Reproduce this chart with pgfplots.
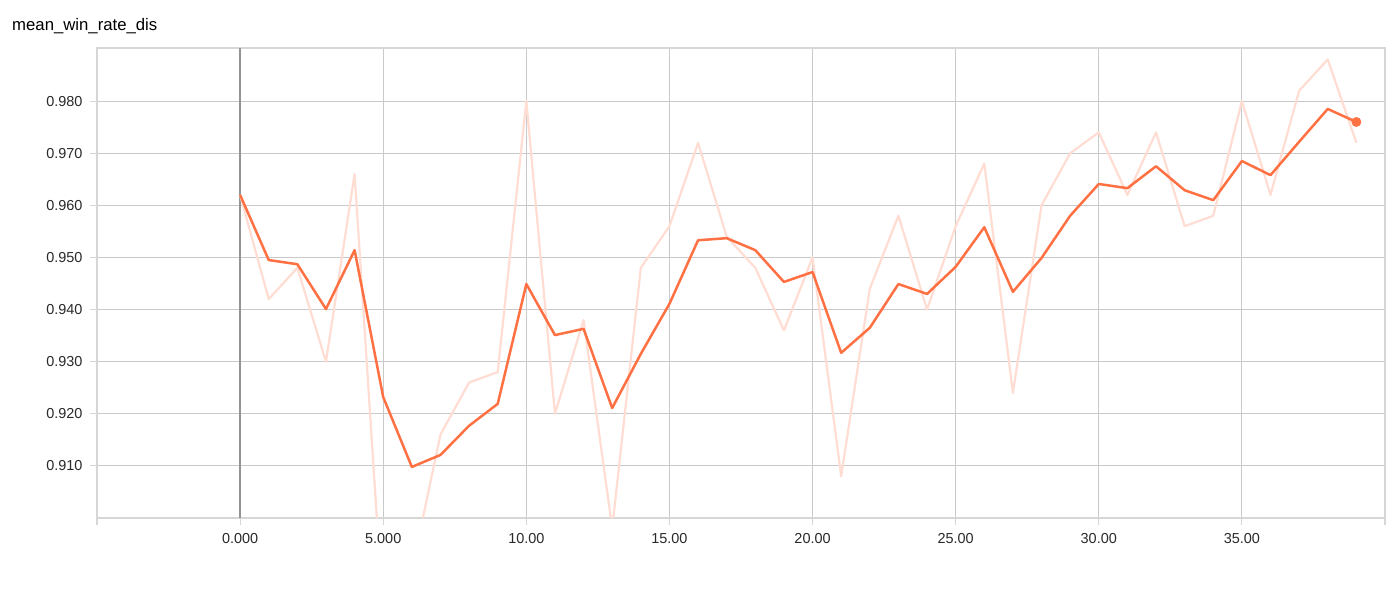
\documentclass[border=0pt]{standalone}
\usepackage{pgfplots}
\pgfplotsset{compat=1.18}
\usepackage{fontspec}
\setmainfont{Liberation Sans}
\definecolor{tbor}{HTML}{FF7043}
\definecolor{tbraw}{HTML}{FFDDD2}
\definecolor{gridc}{HTML}{C9C9C9}
\definecolor{axc}{HTML}{D6D6D6}
\definecolor{txt}{HTML}{2A2A2A}

\pgfplotstableread{
x y
0 0.962
1 0.942
2 0.948
3 0.930
4 0.966
5 0.881
6 0.890
7 0.916
8 0.926
9 0.928
10 0.980
11 0.920
12 0.938
13 0.898
14 0.948
15 0.956
16 0.972
17 0.954
18 0.948
19 0.936
20 0.950
21 0.908
22 0.944
23 0.958
24 0.940
25 0.956
26 0.968
27 0.924
28 0.960
29 0.970
30 0.974
31 0.962
32 0.974
33 0.956
34 0.958
35 0.980
36 0.962
37 0.982
38 0.988
39 0.972
}\rawdata

\pgfplotstableread{
x y
0 0.9620
1 0.9495
2 0.9487
3 0.9401
4 0.9514
5 0.9232
6 0.9098
7 0.9121
8 0.9177
9 0.9219
10 0.9449
11 0.9351
12 0.9363
13 0.9211
14 0.9315
15 0.9411
16 0.9533
17 0.9537
18 0.9514
19 0.9453
20 0.9472
21 0.9317
22 0.9365
23 0.9449
24 0.9430
25 0.9482
26 0.9558
27 0.9434
28 0.9499
29 0.9580
30 0.9641
31 0.9633
32 0.9675
33 0.9629
34 0.9610
35 0.9685
36 0.9658
37 0.9722
38 0.9785
39 0.9760
}\smoothdata

\begin{document}
\begin{tikzpicture}
\path[use as bounding box, fill=white] (0,0) rectangle (1395bp,600bp);
\node[anchor=base west, font=\fontsize{16.8}{19}\selectfont, text=black, inner sep=0] at (12bp,569bp) {mean\_win\_rate\_dis};
\begin{axis}[
  at={(97bp,82bp)}, anchor=south west,
  width=1288bp, height=470bp, scale only axis,
  xmin=-5, xmax=40, ymin=0.900, ymax=0.9902,
  xtick={-5,0,5,10,15,20,25,30,35,40},
  xticklabels={,0.000,5.000,10.00,15.00,20.00,25.00,30.00,35.00,},
  ytick={0.91,0.92,0.93,0.94,0.95,0.96,0.97,0.98},
  yticklabel={\pgfmathprintnumber[fixed,fixed zerofill,precision=3]{\tick}},
  /pgf/number format/assume math mode=true,
  scaled y ticks=false,
  xtick pos=bottom, ytick pos=left,
  tick align=outside,
  major tick length=7bp,
  tick style={draw=axc, line width=1.2bp},
  grid=major,
  major grid style={draw=gridc, line width=1bp},
  axis line style={draw=axc, line width=2bp},
  ticklabel style={font=\fontsize{14.5}{16}\selectfont, text=txt},
  xticklabel style={yshift=-5bp},
  yticklabel style={xshift=-4bp},
  clip=true,
]
\draw[draw=gray!85, line width=1.3bp] (axis cs:0,0.900) -- (axis cs:0,0.9902);
\addplot[tbraw, line width=2.2bp, line join=round] table[x=x,y=y] {\rawdata};
\addplot[tbor, line width=2.5bp, line join=round] table[x=x,y=y] {\smoothdata};
\addplot[tbor, only marks, mark=*, mark size=4.7bp, mark options={draw=tbor, fill=tbor}] coordinates {(39,0.9760)};
\end{axis}
\end{tikzpicture}
\end{document}
